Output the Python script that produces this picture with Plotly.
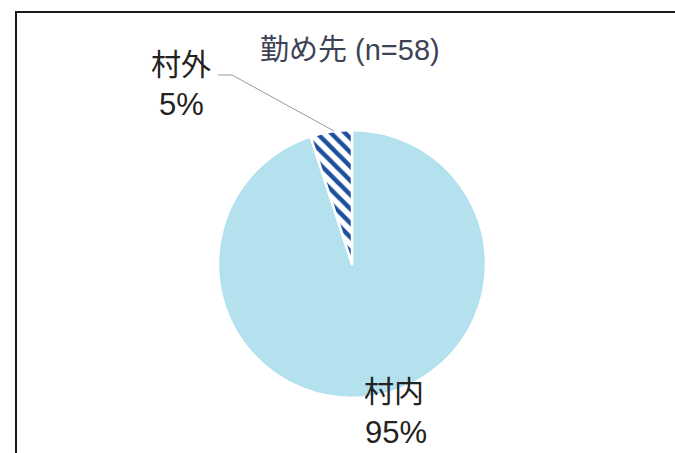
import plotly.graph_objects as go

# Workplace breakdown (n=58)
labels = ["村内", "村外"]
shares = [95, 5]
title_text = "勤め先 (n=58)"

W, H = 675, 453
fill_colors = ["#b3e1ee", "#ffffff"]
pattern_shapes = ["", "\\"]

# Pie geometry in pixels -> paper fractions
cx, cy, r = 352, 264, 134
dom_x = [(cx - r) / W, (cx + r) / W]
dom_y = [(H - cy - r) / H, (H - cy + r) / H]

fig = go.Figure(
    go.Pie(
        labels=labels,
        values=shares,
        sort=False,
        direction="clockwise",
        rotation=0,
        textinfo="none",
        hoverinfo="label+percent",
        marker=dict(
            colors=fill_colors,
            line=dict(color="#ffffff", width=2.5),
            pattern=dict(
                shape=pattern_shapes,
                fgcolor="#1d4f9c",
                bgcolor=fill_colors,
                size=10,
                solidity=0.45,
            ),
        ),
        domain=dict(x=dom_x, y=dom_y),
        showlegend=False,
    )
)

FONT_STACK = "Liberation Sans, Noto Sans CJK JP, sans-serif"
name_font = dict(family="Noto Sans CJK JP, sans-serif", size=30, color="#222222")
pct_font = dict(family=FONT_STACK, size=31, color="#222222")

# Label anchor points in pixels: (name line, percent line)
label_pos = {
    "村外": ((181, 62), (181, 104)),
    "村内": ((394, 389), (396, 432)),
}


def px(x, y):
    return x / W, 1 - y / H


annotations = []
for lab, val in zip(labels, shares):
    (nx, ny), (vx, vy) = label_pos[lab]
    ax, ay = px(nx, ny)
    annotations.append(dict(x=ax, y=ay, xref="paper", yref="paper", text=lab,
                            showarrow=False, font=name_font,
                            xanchor="center", yanchor="middle"))
    bx, by = px(vx, vy)
    annotations.append(dict(x=bx, y=by, xref="paper", yref="paper", text=f"{val}%",
                            showarrow=False, font=pct_font,
                            xanchor="center", yanchor="middle"))

tx, ty = px(350, 50)
annotations.append(dict(
    x=tx, y=ty, xref="paper", yref="paper",
    text=title_text, showarrow=False,
    font=dict(family=FONT_STACK, size=29, color="#3d4356"),
    xanchor="center", yanchor="middle",
))

p0, p1, p2 = px(218, 75), px(232, 75), px(334, 131)
shapes = [
    # chart frame
    dict(type="rect", xref="paper", yref="paper",
         x0=16 / W, x1=1.02, y0=-0.02, y1=1 - 12 / H,
         line=dict(color="#1a1a1a", width=2), fillcolor="rgba(0,0,0,0)"),
    # leader line for the small slice
    dict(type="path", xref="paper", yref="paper",
         path=f"M {p0[0]},{p0[1]} L {p1[0]},{p1[1]} L {p2[0]},{p2[1]}",
         line=dict(color="#9a9a9a", width=1)),
]

fig.update_layout(
    width=W, height=H,
    margin=dict(l=0, r=0, t=0, b=0),
    paper_bgcolor="#ffffff",
    plot_bgcolor="#ffffff",
    annotations=annotations,
    shapes=shapes,
)

fig.write_html("out.html")
